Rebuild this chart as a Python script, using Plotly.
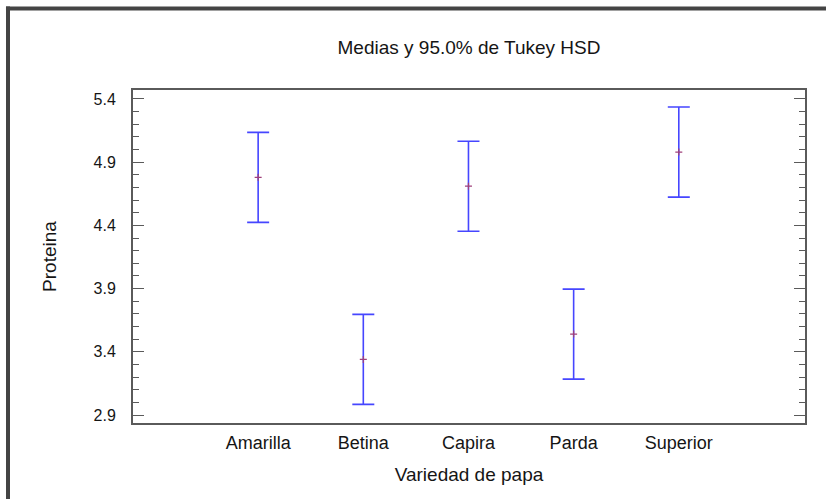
import plotly.graph_objects as go

# Protein means by potato variety with Tukey HSD 95% intervals
varieties = ["Amarilla", "Betina", "Capira", "Parda", "Superior"]
means = [4.78, 3.34, 4.71, 3.54, 4.98]
half_widths = [0.356, 0.356, 0.356, 0.356, 0.356]

y_ticks = [2.9, 3.4, 3.9, 4.4, 4.9, 5.4]

positions = list(range(len(varieties)))

FONT = "Liberation Sans, Arial, sans-serif"
TEXT_COLOR = "#151515"
AXIS_COLOR = "#5a5a5a"

fig = go.Figure()

fig.add_trace(go.Scatter(
    x=positions,
    y=means,
    mode="markers",
    marker=dict(symbol="cross-thin", size=5, color="#a0407a",
                line=dict(width=1.2, color="#a0407a")),
    error_y=dict(type="data", array=half_widths, symmetric=True,
                 color="rgb(70,70,255)", thickness=1.6, width=11),
    showlegend=False,
    hoverinfo="skip",
))

fig.update_layout(
    width=826,
    height=499,
    margin=dict(l=133, r=21, t=90, b=76),
    paper_bgcolor="white",
    plot_bgcolor="white",
    font=dict(family=FONT, color=TEXT_COLOR, size=18),
    title=dict(text="Medias y 95.0% de Tukey HSD", x=0.5, xref="paper",
               xanchor="center", y=1 - 47 / 499, yanchor="middle",
               font=dict(size=19, color=TEXT_COLOR)),
    xaxis=dict(
        range=[-1.19, 5.2],
        tickmode="array",
        tickvals=positions,
        ticktext=varieties,
        ticks="",
        showgrid=False,
        zeroline=False,
        showline=True,
        linecolor=AXIS_COLOR,
        linewidth=2,
        mirror=True,
        ticklabelstandoff=2,
        tickfont=dict(size=18),
        title=dict(text="Variedad de papa", standoff=16, font=dict(size=19)),
    ),
    yaxis=dict(
        range=[2.837, 5.471],
        tickmode="array",
        tickvals=y_ticks,
        ticktext=[f"{v:.1f}" for v in y_ticks],
        ticks="inside",
        ticklen=11,
        tickwidth=1.3,
        tickcolor=AXIS_COLOR,
        minor=dict(dtick=0.1, tick0=2.9, ticks="inside", ticklen=6,
                   tickwidth=1.3, tickcolor=AXIS_COLOR, showgrid=False),
        showgrid=False,
        zeroline=False,
        showline=True,
        linecolor=AXIS_COLOR,
        linewidth=2,
        mirror="allticks",
        ticklabelstandoff=12,
        tickfont=dict(size=16),
        title=dict(text="Proteina", standoff=32, font=dict(size=19)),
    ),
)

# Outer panel frame: top and left edges fall inside the page
frame_left = (8 - 133) / 672
frame_top = (423 - 8.5) / 333
fig.add_shape(type="line", xref="paper", yref="paper",
              x0=frame_left - 0.003, x1=(826 - 133) / 672,
              y0=frame_top, y1=frame_top,
              line=dict(color="#444444", width=4), layer="above")
fig.add_shape(type="line", xref="paper", yref="paper",
              x0=frame_left, x1=frame_left,
              y0=frame_top + 0.006, y1=-76 / 333,
              line=dict(color="#444444", width=4), layer="above")

fig.write_html("out.html", config={"displayModeBar": False})
